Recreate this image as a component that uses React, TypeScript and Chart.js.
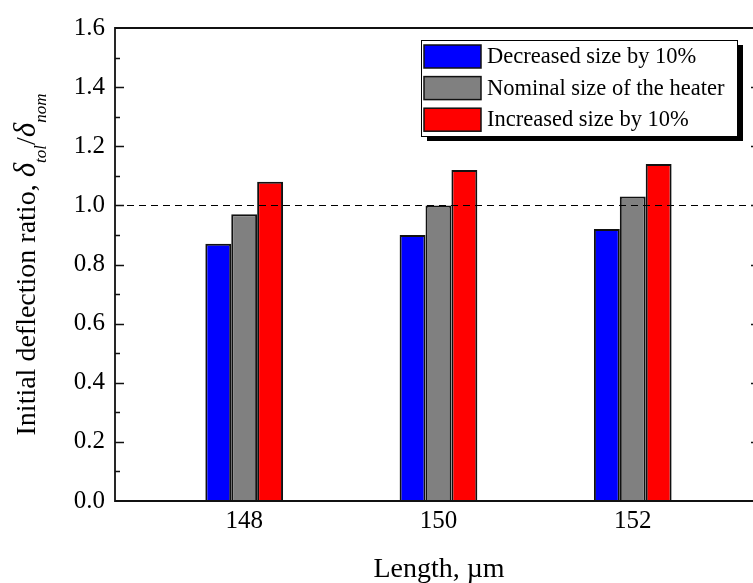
import React, { useEffect, useRef } from "react";
import { Chart, registerables } from "chart.js";

Chart.register(...registerables);

const lengths = [148, 150, 152];
const decreased = [0.87, 0.9, 0.92];
const nominal = [0.97, 1.0, 1.03];
const increased = [1.08, 1.12, 1.14];
const seriesLabels = ["Decreased size by 10%", "Nominal size of the heater", "Increased size by 10%"];
const seriesColors = ["#0000FF", "#808080", "#FF0000"];
const referenceValue = 1.0;
const xTitle = "Length, \u00b5m";

const FONT = "'Liberation Serif', 'Times New Roman', serif";
const W = 770;
const H = 583;

const decorPlugin = {
  id: "decor",
  afterDatasetsDraw(chart: any) {
    const { ctx, chartArea } = chart;
    const { left, right, top, bottom } = chartArea;
    const ys = chart.scales.y;
    ctx.save();
    // dashed reference line
    const yr = Math.round(ys.getPixelForValue(referenceValue)) + 0.5;
    ctx.strokeStyle = "#000";
    ctx.lineWidth = 1.2;
    ctx.setLineDash([7, 5]);
    ctx.beginPath();
    ctx.moveTo(left, yr);
    ctx.lineTo(right, yr);
    ctx.stroke();
    ctx.setLineDash([]);

    // frame
    ctx.lineWidth = 1.8;
    ctx.strokeStyle = "#111";
    ctx.beginPath();
    ctx.moveTo(left, top);
    ctx.lineTo(right, top);
    ctx.lineTo(right, bottom);
    ctx.lineTo(left, bottom);
    ctx.closePath();
    ctx.stroke();

    // ticks on y axes (inward), major every 0.2, minor every 0.1
    ctx.lineWidth = 1.3;
    for (let i = 1; i < 16; i++) {
      const v = i / 10;
      const p = Math.round(ys.getPixelForValue(v)) + 0.5;
      const len = i % 2 === 0 ? 9 : 5;
      ctx.beginPath();
      ctx.moveTo(left, p);
      ctx.lineTo(left + len, p);
      ctx.moveTo(right, p);
      ctx.lineTo(right - len, p);
      ctx.stroke();
    }

    // legend
    const lx = 421, ly = 40, lw = 316, lh = 96;
    ctx.fillStyle = "#000";
    ctx.fillRect(lx + 6, ly + 5, lw, lh);
    ctx.fillStyle = "#fff";
    ctx.fillRect(lx, ly, lw, lh);
    ctx.lineWidth = 1;
    ctx.strokeStyle = "#000";
    ctx.strokeRect(lx + 0.5, ly + 0.5, lw, lh);
    ctx.font = `22.5px ${FONT}`;
    ctx.textBaseline = "middle";
    ctx.textAlign = "left";
    chart.data.datasets.forEach((ds: any, i: number) => {
      const sy = 45 + i * 31.6;
      ctx.fillStyle = ds.backgroundColor;
      ctx.fillRect(424, sy, 57, 23);
      ctx.lineWidth = 1.5;
      ctx.strokeStyle = "#111";
      ctx.strokeRect(424, sy, 57, 23);
      ctx.fillStyle = "#000";
      ctx.fillText(ds.label, 487, sy + 12);
    });

    // x title
    ctx.font = `28px ${FONT}`;
    ctx.textAlign = "center";
    ctx.textBaseline = "alphabetic";
    ctx.fillStyle = "#000";
    ctx.fillText(xTitle, 439, 577);

    // y title with subscripts
    const parts = [
      { t: "Initial deflection ratio, ", f: `28px ${FONT}`, dy: 0 },
      { t: "\u03b4", f: `italic 31px ${FONT}`, dy: 0 },
      { t: "tol", f: `italic 17px ${FONT}`, dy: 11 },
      { t: "/", f: `28px ${FONT}`, dy: 0 },
      { t: "\u03b4", f: `italic 31px ${FONT}`, dy: 0 },
      { t: "nom", f: `italic 17px ${FONT}`, dy: 11 },
    ];
    let total = 0;
    const widths = parts.map((p) => {
      ctx.font = p.f;
      const w = ctx.measureText(p.t).width;
      total += w;
      return w;
    });
    ctx.translate(35, (top + bottom) / 2);
    ctx.rotate(-Math.PI / 2);
    ctx.textAlign = "left";
    let x = -total / 2;
    parts.forEach((p, i) => {
      ctx.font = p.f;
      ctx.fillText(p.t, x, p.dy);
      x += widths[i];
    });
    ctx.restore();
  },
};

export default function App() {
  const ref = useRef<HTMLCanvasElement | null>(null);
  useEffect(() => {
    if (!ref.current) return;
    const series = [decreased, nominal, increased];
    const chart = new Chart(ref.current, {
      type: "bar",
      data: {
        datasets: series.map((vals, i) => ({
          label: seriesLabels[i],
          data: lengths.map((x, j) => ({ x, y: vals[j] })),
          backgroundColor: seriesColors[i],
          borderColor: "#111",
          borderWidth: 2,
          categoryPercentage: 0.4,
          barPercentage: 1.0,
        })),
      },
      options: {
        animation: false,
        responsive: false,
        devicePixelRatio: 1,
        layout: { padding: { top: 28, right: 10, left: 0, bottom: 0 } },
        plugins: { legend: { display: false }, tooltip: { enabled: false } },
        scales: {
          x: {
            type: "linear",
            offset: false,
            min: 146.67,
            max: 153.31,
            afterBuildTicks: (s: any) => {
              s.ticks = lengths.map((v) => ({ value: v }));
            },
            afterFit: (s: any) => {
              s.height = H - 501;
            },
            grid: { display: false, drawTicks: false, offset: false },
            border: { display: false },
            ticks: {
              color: "#000",
              font: { family: FONT, size: 25 },
              padding: 5,
              maxRotation: 0,
              callback: (v: any) => String(v),
            },
          },
          y: {
            min: 0,
            max: 1.6,
            afterFit: (s: any) => {
              s.width = 115;
            },
            grid: { display: false, drawTicks: false },
            border: { display: false },
            ticks: {
              stepSize: 0.2,
              color: "#000",
              font: { family: FONT, size: 25 },
              padding: 10,
              callback: (v: any) => Number(v).toFixed(1),
            },
          },
        },
      },
      plugins: [decorPlugin],
    });
    return () => chart.destroy();
  }, []);
  return (
    <div style={{ position: "fixed", left: 0, top: 0, width: 753, height: 583, overflow: "hidden", background: "#fff" }}>
      <canvas ref={ref} width={W} height={H} style={{ width: W, height: H, display: "block" }} />
    </div>
  );
}
